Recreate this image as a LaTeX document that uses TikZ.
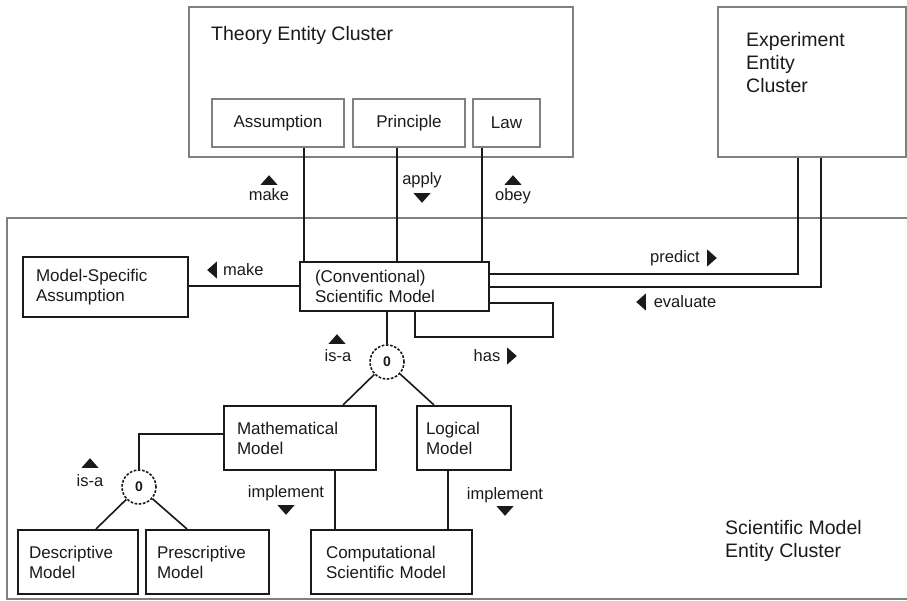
\documentclass[tikz,border=0pt]{standalone}
\usepackage{fontspec}
\setmainfont{Liberation Sans}
\definecolor{ink}{HTML}{1A1A1A}
\definecolor{frame}{HTML}{808080}
\newcommand\fsBox{\fontsize{17}{20}\selectfont}
\newcommand\fsLab{\fontsize{16.5}{19}\selectfont}
\newcommand\fsTitle{\fontsize{19.5}{23}\selectfont}
\newcommand\fsGen{\fontsize{14}{16}\selectfont}
\tikzset{
  cluster/.style={draw=frame, line width=1.4pt, inner sep=0pt},
  inbox/.style={draw=frame, line width=1.4pt, minimum height=48pt, inner sep=0pt, font=\fsBox, text=ink},
  box/.style={draw=ink, line width=2pt, inner xsep=13pt, inner ysep=0pt, align=left, font=\fsBox, text=ink},
  link/.style={draw=ink, line width=2pt},
  gen/.style={circle, draw=ink, line width=1.6pt, dash pattern=on 2.6pt off 1.6pt,
    minimum size=34pt, inner sep=0pt, font=\bfseries\fsGen, text=ink},
  lab/.style={font=\fsLab, inner sep=0pt, text=ink},
  ctitle/.style={font=\fsTitle, align=left, anchor=west, inner sep=0pt, text=ink},
  pics/headtri/.style={code={\fill[ink] (-8.5,4.8) -- (8.5,4.8) -- (0,-4.8) -- cycle;}}
}
\begin{document}
\begin{tikzpicture}[x=1pt,y=-1pt]
\useasboundingbox (0,0) rectangle (907,601);

% clusters
\node[cluster, minimum width=384pt, minimum height=150pt] (theory) at (381,82) {};
\node[ctitle] (theorytitle) at (211,35) {Theory Entity Cluster};
\node[cluster, minimum width=188pt, minimum height=150pt] (exp) at (812,82) {};
\node[ctitle] (exptitle) at (746,63) {Experiment\\Entity\\Cluster};
\draw[cluster] (907,218) -- (7,218) -- (7,599) -- (907,599);
\node[ctitle] (smtitle) at (725,540.5) {Scientific Model\\Entity Cluster};

% theory entities
\node[inbox, minimum width=132pt] (assumption) at (278,123) {Assumption};
\node[inbox, minimum width=112pt] (principle) at (409,123) {Principle};
\node[inbox, minimum width=67pt] (law) at (506.5,123) {Law};

% scientific model entities
\node[box, minimum width=189pt, minimum height=49pt, text width=159pt, inner xsep=15pt] (sm) at (394.5,286.5) {(Conventional)\\Scientific Model};
\node[box, minimum width=165pt, minimum height=60pt, text width=139pt] (ms) at (105.5,287) {Model-Specific\\Assumption};
\node[box, minimum width=152pt, minimum height=64pt, text width=126pt] (math) at (300,438) {Mathematical\\Model};
\node[box, minimum width=94pt, minimum height=64pt, text width=76pt, inner xsep=9pt] (logical) at (464,438) {Logical\\Model};
\node[box, minimum width=120pt, minimum height=64pt, text width=98pt, inner xsep=11pt] (desc) at (78,562) {Descriptive\\Model};
\node[box, minimum width=123pt, minimum height=64pt, text width=101pt, inner xsep=11pt] (presc) at (207.5,562) {Prescriptive\\Model};
\node[box, minimum width=161pt, minimum height=64pt, text width=131pt, inner xsep=15pt] (csm) at (391.5,562) {Computational\\Scientific Model};

% generalisation circles
\node[gen] (g1) at (387,362) {0};
\node[gen] (g2) at (139,487) {0};

% connectors to the theory cluster
\draw[link] ([xshift=26pt]assumption.south) -- ([xshift=26pt]assumption.south |- sm.north);
\draw[link] ([xshift=-12pt]principle.south) -- ([xshift=-12pt]principle.south |- sm.north);
\draw[link] ([xshift=-24.5pt]law.south) -- ([xshift=-24.5pt]law.south |- sm.north);

% connectors to the experiment cluster
\draw[link] ([yshift=12.5pt]sm.east) -| ([xshift=-14pt]exp.south);
\draw[link] ([yshift=-0.5pt]sm.east) -| ([xshift=9pt]exp.south);

% model-specific assumption
\draw[link] (ms.east |- 0,286) -- (sm.west |- 0,286);

% self loop
\draw[link] ([yshift=-16.5pt]sm.east) -- ++(63,0) -- ++(0,34) -| ([xshift=20.5pt]sm.south);

% is-a hierarchy
\draw[link] ([xshift=-7.5pt]sm.south) -- (g1.north);
\draw[link, line width=1.6pt] (g1) -- ([xshift=43pt]math.north);
\draw[link, line width=1.6pt] (g1) -- ([xshift=-30pt]logical.north);
\draw[link] ([yshift=4pt]math.west) -| (g2.north);
\draw[link, line width=1.6pt] (g2) -- ([xshift=18pt]desc.north);
\draw[link, line width=1.6pt] (g2) -- ([xshift=-20.5pt]presc.north);

% implementation
\draw[link] ([xshift=35pt]math.south) -- ([xshift=35pt]math.south |- csm.north);
\draw[link] ([xshift=-16pt]logical.south) -- ([xshift=-16pt]logical.south |- csm.north);

% relation labels
\node[lab] (lmake) at (269,195) {make};
\pic at (269,180) {headtri};
\node[lab] (lapply) at (422,180) {apply};
\pic[rotate=180] at (422,198) {headtri};
\node[lab] (lobey) at (513,196) {obey};
\pic at (513,180) {headtri};
\node[lab, anchor=west] (lmake2) at (223,270) {make};
\pic[rotate=90] at (212,270) {headtri};
\node[lab] (lpredict) at (675,258) {predict};
\pic[rotate=-90] at (712,258) {headtri};
\node[lab] (leval) at (685,302) {evaluate};
\pic[rotate=90] at (641,302) {headtri};
\node[lab] (lisa1) at (338,356) {is-a};
\pic at (337,339) {headtri};
\node[lab] (lhas) at (487,356) {has};
\pic[rotate=-90] at (512,356) {headtri};
\node[lab] (lisa2) at (90,481) {is-a};
\pic at (90,463) {headtri};
\node[lab] (limpl1) at (286,493) {implement};
\pic[rotate=180] at (286,510) {headtri};
\node[lab] (limpl2) at (505,495) {implement};
\pic[rotate=180] at (505,511) {headtri};
\end{tikzpicture}
\end{document}
